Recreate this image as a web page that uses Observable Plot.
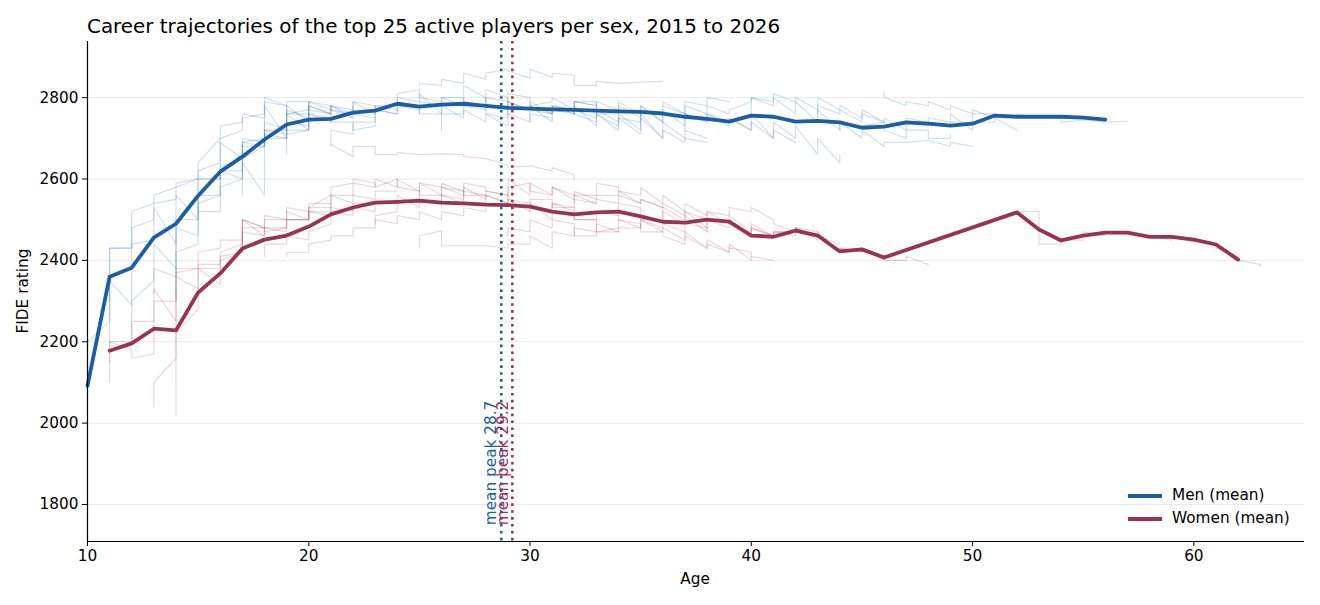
<!DOCTYPE html>
<html>
<head>
<meta charset="utf-8">
<script src="https://cdn.jsdelivr.net/npm/d3@7"></script>
<script src="https://cdn.jsdelivr.net/npm/@observablehq/plot@0.6"></script>
<style>
  body { margin: 0; background: #fff; font-family: "DejaVu Sans", sans-serif; }
  #wrap { position: relative; width: 1320px; height: 605px; overflow: hidden; }
  #wrap svg { position: absolute; left: 0; top: 0; font-family: "DejaVu Sans", sans-serif; }
  .lbl { position: absolute; color: #000; white-space: nowrap; font-size: 15.3px; line-height: 1; }
  .sw { position: absolute; width: 34px; height: 3.6px; }
</style>
</head>
<body>
<div id="wrap"></div>
<script>
// ---------------- data ----------------
const titleText = "Career trajectories of the top 25 active players per sex, 2015 to 2026";
const xTicks = [10, 20, 30, 40, 50, 60];
const yTicks = [1800, 2000, 2200, 2400, 2600, 2800];

const menMeanAges = [10,11,12,13,14,15,16,17,18,19,20,21,22,23,24,25,26,27,28,29,30,31,32,33,34,35,36,37,38,39,40,41,42,43,44,45,46,47,48,49,50,51,52,53,54,55,56];
const menMeanRatings = [2092,2360,2382,2456,2490,2559,2618,2655,2697,2734,2746,2748,2763,2768,2785,2778,2783,2785,2780,2775,2773,2771,2770,2768,2766,2765,2761,2753,2748,2741,2756,2753,2741,2743,2739,2726,2729,2739,2736,2731,2736,2756,2753,2753,2753,2751,2746];

const womenMeanAges = [11,12,13,14,15,16,17,18,19,20,21,22,23,24,25,26,27,28,29,30,31,32,33,34,35,36,37,38,39,40,41,42,43,44,45,46,52,53,54,55,56,57,58,59,60,61,62];
const womenMeanRatings = [2178,2196,2232,2228,2321,2368,2429,2451,2461,2483,2513,2530,2542,2544,2547,2542,2540,2537,2536,2532,2520,2513,2518,2520,2508,2495,2493,2500,2495,2461,2458,2473,2461,2422,2427,2407,2518,2476,2449,2461,2468,2468,2458,2458,2451,2439,2402];

const menPeak = 28.7;
const womenPeak = 29.2;

// individual players: first age, then rating(s) at each successive age
const menPlayerStart = [10,11,11,12,13,14,15,17,19,21,25,25,26,28,29,30,32,36,37,40,43,46,44,47];
const menPlayerRatings = [
  [[2060,2200],[2250,2430],[2430,2480],[2500,2540],[2550,2580],[2600,2640],[2700,2730],[2740,2760],[2750,2790],[2780,2760],2770],
  [[2200,2430],[2430,2520],[2540,2560],[2580,2590],[2600,2620],[2640,2700],[2720,2750],[2760,2800],[2780,2790],[2790,2770],2760],
  [[2300,2350],[2290,2440],[2450,2530],[2440,2560],[2500,2600],[2600,2630],[2650,2690],[2700,2720],[2720,2740],[2730,2740]],
  [[2200,2300],[2350,2440],[2380,2480],[2460,2520],[2520,2580],[2600,2640],[2560,2700],[2700,2720],[2720,2780],[2760,2770],2750],
  [[2320,2380],[2360,2420],[2440,2540],[2560,2620],[2600,2690],[2680,2710],[2700,2760],[2760,2790],[2780,2770],[2760,2780]],
  [[2300,2500],[2500,2560],[2560,2620],[2620,2680],[2680,2720],[2710,2780],[2740,2760],[2750,2740],[2740,2720],[2730,2750]],
  [[2520,2600],[2600,2690],[2650,2700],[2690,2780],[2700,2760],[2720,2790],[2770,2780],[2760,2790],[2780,2770],[2760,2770]],
  [[2560,2650],[2680,2740],[2720,2770],[2750,2780],[2760,2780],[2770,2790],[2760,2780],[2780,2800],[2790,2810],[2760,2780]],
  [[2660,2710],[2720,2760],[2740,2780],[2750,2760],[2750,2780],[2770,2810],[2820,2800],[2790,2800],[2780,2830],[2800,2780]],
  [[2680,2720],[2710,2740],[2740,2770],[2760,2780],[2770,2760],[2760,2780],[2750,2770],[2740,2760],[2730,2760],[2740,2760],2750],
  [[2830,2835],[2830,2845],[2835,2860],[2845,2860],[2870,2865],[2848,2870],[2850,2860],[2855,2830],[2830,2840],2835,2838,2840],
  [[2760,2790],[2780,2800],[2800,2780],[2770,2800],[2790,2810],[2800,2780],[2790,2800],[2770,2790],[2780,2760],[2760,2770],2760],
  [[2720,2760],[2760,2790],[2780,2760],[2750,2790],[2770,2780],[2760,2780],[2770,2760],[2740,2760],[2730,2750],[2740,2760]],
  [[2790,2820],[2800,2780],[2770,2790],[2760,2780],[2760,2770],[2750,2770],[2740,2760],[2720,2750],[2700,2740],[2700,2720],2700],
  [[2760,2790],[2770,2780],[2740,2770],[2760,2780],[2730,2760],[2720,2750],[2710,2760],[2700,2720],[2690,2700],2690],
  [[2740,2770],[2760,2780],[2770,2790],[2780,2790],[2770,2780],[2750,2780],[2740,2780],[2760,2790],[2780,2800],2790],
  [[2760,2790],[2790,2770],[2770,2790],[2760,2780],[2740,2770],[2730,2760],[2740,2760],[2730,2750],[2720,2740],[2700,2720],2690],
  [[2780,2790],[2760,2780],[2760,2780],[2760,2770],[2790,2800],[2780,2800],[2760,2790],[2740,2770],[2720,2740],2730,2740],
  [[2720,2760],[2740,2760],[2740,2750],[2720,2760],[2700,2740],[2700,2730],[2660,2700],[2640,2660]],
  [[2760,2800],[2790,2810],[2790,2800],[2770,2800],[2770,2780],[2750,2770],[2740,2720],[2700,2720],[2720,2700],[2700,2710]],
  [[2760,2780],[2760,2770],[2740,2760],[2740,2750],[2720,2740],[2730,2750],[2740,2760],[2720,2740],[2740,2750],2720],
  [[2815,2800],[2780,2790],[2780,2790],[2770,2780],[2760,2770],2750],
  [[2720,2740],[2700,2720],[2680,2690],2690,2695,[2680,2690],2680],
  [[2740,2750],2740,[2730,2740],[2740,2760],2760,[2750,2760],2750,[2750,2740],2745,2740,2742]
];

const womenPlayerStart = [11,11,13,14,17,18,19,20,21,23,25,26,28,29,30,31,32,34,36,39,52];
const womenPlayerRatings = [
  [[2150,2200],[2180,2160],[2170,2330],[2250,2380],[2380,2420],[2430,2450],[2450,2480],[2480,2500],[2500,2530],[2520,2540],2540],
  [[2100,2200],[2200,2250],[2250,2300],[2300,2360],[2330,2380],[2340,2400],[2420,2500],[2460,2480],[2470,2500],[2500,2520]],
  [[2040,2100],[2160,2220],[2280,2380],[2380,2420],[2440,2470],[2460,2480],[2480,2500],[2500,2520],[2510,2530],[2520,2540],2540],
  [[2020,2370],[2380,2390],[2390,2410],[2420,2500],[2480,2510],[2500,2520],[2500,2530],[2530,2560],[2540,2560],[2550,2570],2570],
  [[2420,2500],[2480,2470],[2480,2500],[2500,2520],[2520,2560],[2560,2590],[2580,2600],[2580,2600],[2570,2590],[2560,2580],2560],
  [[2410,2440],[2440,2460],[2450,2470],[2490,2520],[2510,2530],[2520,2540],[2540,2560],[2530,2550],[2540,2560],[2550,2570],2560],
  [[2410,2420],[2420,2440],[2450,2460],[2460,2480],[2480,2500],[2490,2510],[2500,2520],[2500,2520],[2510,2530],[2520,2530]],
  [[2500,2530],[2560,2580],[2590,2600],[2590,2580],[2600,2580],[2570,2560],[2560,2580],[2570,2590],[2580,2570],[2560,2550],2540],
  [2685,[2655,2680],[2680,2660],[2660,2665],2660,2662,[2660,2655],2650,[2635,2630],2632,[2620,2628],[2610,2600]],
  [[2490,2510],[2520,2540],[2550,2590],[2580,2590],[2570,2560],[2560,2570],[2560,2580],[2590,2570],[2560,2580],[2550,2560],2540],
  [[2430,2460],[2473,2436],2436,2436,[2430,2440],[2440,2460],[2430,2470],[2460,2480],[2470,2490],2470],
  [[2530,2560],[2540,2580],[2550,2560],[2540,2600],[2560,2590],[2560,2580],[2560,2570],[2550,2560],[2560,2570],[2540,2550],2530],
  [[2540,2560],[2540,2550],[2520,2540],[2500,2540],[2530,2550],[2540,2550],[2540,2560],[2540,2550],[2530,2540],[2510,2520],2500],
  [[2460,2480],[2470,2500],[2480,2500],[2490,2460],[2460,2470],[2480,2500],[2480,2500],[2480,2490],[2470,2490],[2480,2470]],
  [[2520,2550],[2550,2530],[2530,2500],[2500,2470],[2470,2480],[2480,2500],[2470,2460],[2440,2460],[2430,2440],[2420,2440],[2400,2410]],
  [[2530,2540],[2520,2500],[2500,2520],[2510,2500],[2490,2470],[2470,2480],[2450,2470],[2430,2450],[2420,2430],[2420,2410],2400],
  [[2540,2560],[2560,2590],[2580,2570],[2560,2580],[2540,2560],[2520,2540],[2510,2520],[2510,2530],[2520,2530],[2500,2490],[2470,2480]],
  [[2510,2540],[2530,2500],[2500,2530],[2500,2520],[2480,2520],[2490,2510],[2470,2490],[2460,2470],[2460,2480],[2470,2460],2440],
  [[2500,2520],[2490,2510],[2470,2500],[2480,2490],[2460,2480],[2460,2470],[2470,2480],[2460,2470],[2420,2430],[2420,2430],[2400,2410]],
  [[2490,2500],[2460,2480],[2460,2470],[2470,2480],[2450,2460],[2420,2430],[2420,2430],[2410,2400],[2400,2410],2390],
  [[2515,2520],[2520,2440],[2440,2450],[2450,2470],[2460,2470],[2465,2470],[2455,2460],[2450,2460],[2445,2450],[2440,2430],[2410,2400],[2390,2385]]
];

// ---------------- build ----------------
const menColor = "#1a5ea6";
const womenColor = "#993355";

function flatten(starts, ratings, sex) {
  const out = [];
  ratings.forEach((vals, i) => {
    vals.forEach((v, j) => {
      const age = starts[i] + j;
      (Array.isArray(v) ? v : [v]).forEach(r => out.push({id: sex + i, age, rating: r}));
    });
  });
  return out;
}
const menPts = flatten(menPlayerStart, menPlayerRatings, "m");
const womenPts = flatten(womenPlayerStart, womenPlayerRatings, "w");
const menMean = menMeanAges.map((a, i) => ({age: a, rating: menMeanRatings[i]}));
const womenMeanA = womenMeanAges.map((a, i) => ({age: a, rating: womenMeanRatings[i]}));

const yMin = 1709, yMax = 2938;
const fs = 15.3;

const chart = Plot.plot({
  width: 1320,
  height: 605,
  marginLeft: 87,
  marginRight: 16,
  marginTop: 41,
  marginBottom: 64,
  style: {fontFamily: "DejaVu Sans", fontSize: fs + "px", background: "#fff", color: "#000"},
  x: {domain: [10, 65], ticks: xTicks, label: null},
  y: {domain: [yMin, yMax], ticks: yTicks, label: null},
  marks: [
    Plot.gridY(yTicks, {stroke: "#000", strokeOpacity: 0.09, strokeWidth: 1}),
    Plot.line(menPts, {x: "age", y: "rating", z: "id", stroke: menColor, strokeOpacity: 0.2, strokeWidth: 1.2}),
    Plot.line(womenPts, {x: "age", y: "rating", z: "id", stroke: womenColor, strokeOpacity: 0.2, strokeWidth: 1.2}),
    Plot.line(menMean, {x: "age", y: "rating", stroke: menColor, strokeWidth: 3.8, strokeLinejoin: "round"}),
    Plot.line(womenMeanA, {x: "age", y: "rating", stroke: womenColor, strokeWidth: 3.8, strokeLinejoin: "round"}),
    Plot.ruleX([menPeak], {stroke: menColor, strokeWidth: 2.6, strokeDasharray: "2.6,4.3"}),
    Plot.ruleX([womenPeak], {stroke: womenColor, strokeWidth: 2.6, strokeDasharray: "2.6,4.3"}),
    Plot.text([menPeak], {x: d => d, y: () => 1749, text: d => `mean peak ${d}`, rotate: -90, textAnchor: "start", lineAnchor: "middle", dx: -10, fill: menColor, fontSize: fs}),
    Plot.text([womenPeak], {x: d => d, y: () => 1749, text: d => `mean peak ${d}`, rotate: -90, textAnchor: "start", lineAnchor: "middle", dx: -9, fill: womenColor, fontSize: fs}),
    Plot.ruleX([10], {stroke: "#000", strokeWidth: 1.2}),
    Plot.ruleY([yMin], {stroke: "#000", strokeWidth: 1.2}),
    Plot.axisX({ticks: xTicks, tickSize: 5, tickPadding: 4, fontSize: fs, tickFormat: d => String(d), label: null}),
    Plot.axisY({ticks: yTicks, tickSize: 5, tickPadding: 4, fontSize: fs, tickFormat: d => String(d), label: null})
  ]
});

const wrap = document.getElementById("wrap");
wrap.appendChild(chart);

function addLabel(text, css) {
  const d = document.createElement("div");
  d.className = "lbl";
  d.textContent = text;
  Object.assign(d.style, css);
  wrap.appendChild(d);
  return d;
}
addLabel(titleText, {left: "87px", top: "17px", fontSize: "19.9px"});
addLabel("Age", {left: "695px", top: "572px", fontSize: fs + "px", transform: "translateX(-50%)"});
addLabel("FIDE rating", {left: "24px", top: "291px", fontSize: fs + "px", transform: "translate(-50%,-50%) rotate(-90deg)", transformOrigin: "center"});

const legendItems = [["Men (mean)", menColor, 496], ["Women (mean)", womenColor, 519]];
legendItems.forEach(([t, c, y]) => {
  const s = document.createElement("div");
  s.className = "sw";
  s.style.left = "1128px";
  s.style.top = (y - 1.8) + "px";
  s.style.background = c;
  wrap.appendChild(s);
  addLabel(t, {left: "1172px", top: (y - 8.5) + "px", fontSize: fs + "px"});
});
</script>
</body>
</html>
